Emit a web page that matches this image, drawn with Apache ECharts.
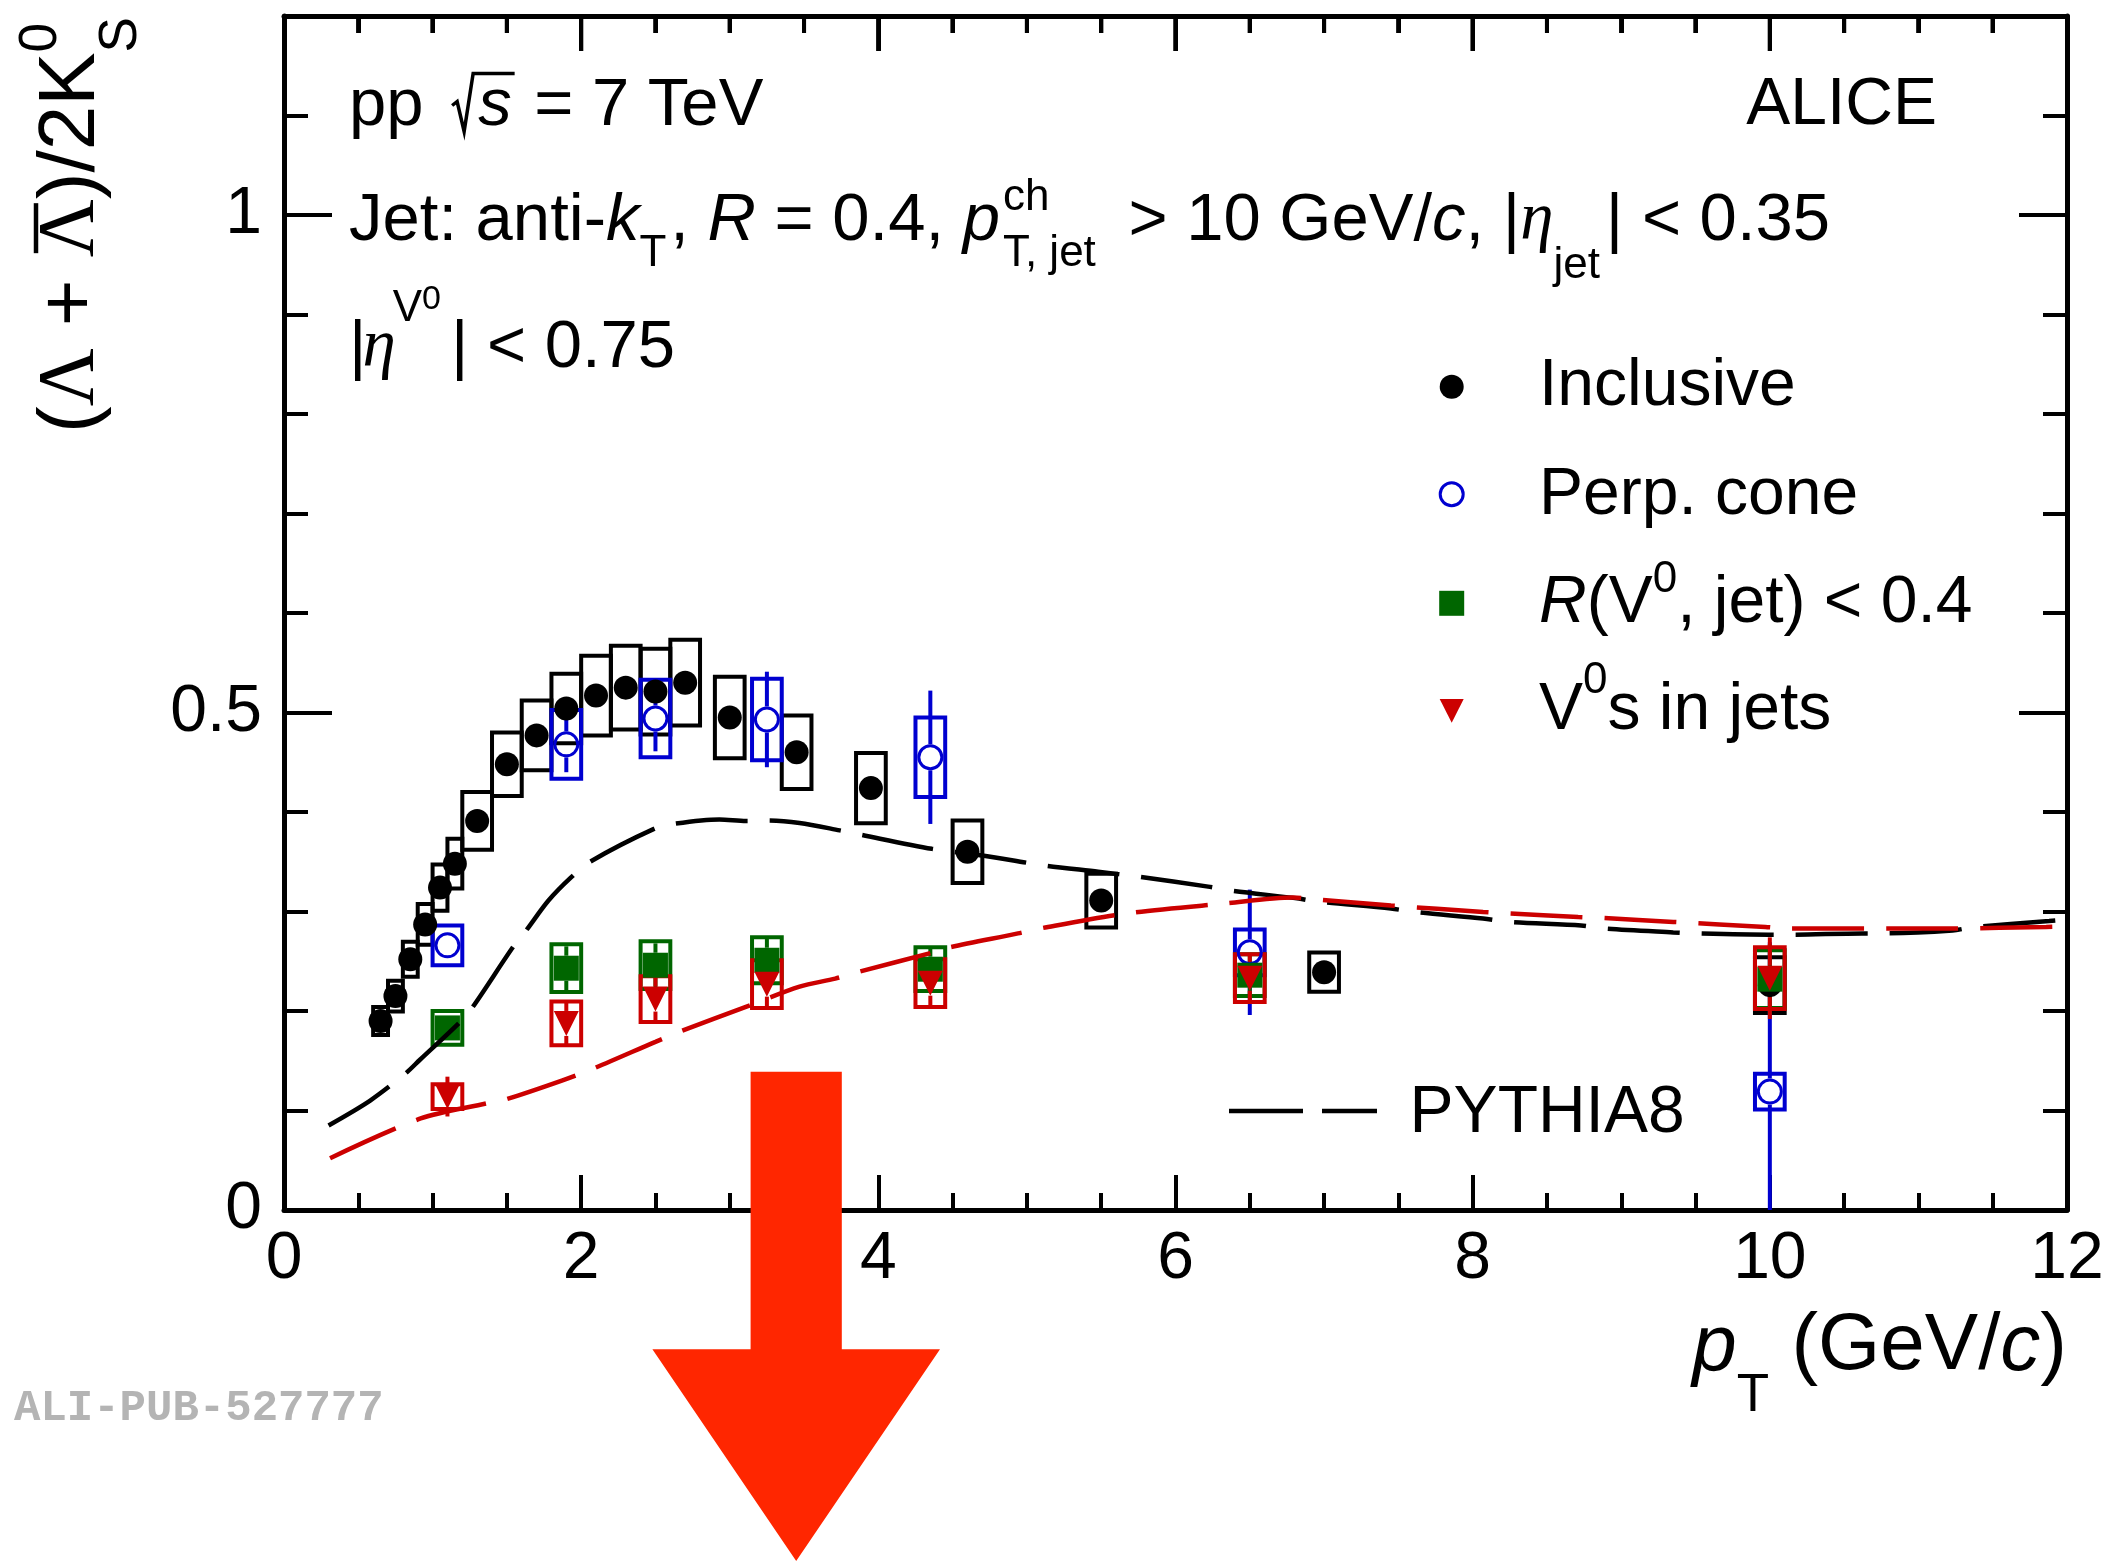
<!DOCTYPE html>
<html>
<head>
<meta charset="utf-8">
<script src="https://cdn.jsdelivr.net/npm/echarts@6/dist/echarts.min.js"></script>
<style>
  html, body { margin: 0; padding: 0; background: #ffffff; }
  #chart { width: 2111px; height: 1561px; }
</style>
</head>
<body>
<div id="chart"></div>
<script>
// ---------------- measured ratios ----------------
// Inclusive (Lambda + anti-Lambda)/2K0S, pT bin edges in GeV/c
const inclBinEdges = [0.6, 0.7, 0.8, 0.9, 1.0, 1.1, 1.2, 1.4, 1.6, 1.8, 2.0, 2.2, 2.4, 2.6, 2.8, 3.2, 3.7, 4.2, 5.0, 6.0, 8.0, 12.0];
const inclRatio = [0.190, 0.215, 0.252, 0.287, 0.324, 0.348, 0.391, 0.448, 0.477, 0.504, 0.517, 0.525, 0.521, 0.530, 0.495, 0.460, 0.424, 0.360, 0.311, 0.239, 0.226];
const inclSys   = [0.014, 0.0155, 0.0175, 0.0205, 0.0233, 0.025, 0.029, 0.032, 0.035, 0.035, 0.040, 0.042, 0.043, 0.043, 0.041, 0.037, 0.0354, 0.0314, 0.027, 0.0197, 0.028];

// Jet-related selections share one binning
const jetBinEdges = [0.6, 1.6, 2.2, 2.8, 3.7, 5.0, 8.0, 12.0];

// Perpendicular cone
const perpRatio = [0.266, 0.468, 0.494, 0.493, 0.455, 0.259, 0.119];
const perpStat  = [0.008, 0.028, 0.033, 0.048, 0.067, 0.063, 0.150];
const perpSys   = [0.020, 0.0345, 0.039, 0.041, 0.040, 0.023, 0.018];

// R(V0, jet) < 0.4
const coneRatio = [0.183, 0.243, 0.246, 0.251, 0.242, 0.236, 0.232];
const coneStat  = [0.010, 0.022, 0.022, 0.022, 0.022, 0.022, 0.035];
const coneSys   = [0.017, 0.024, 0.024, 0.023, 0.022, 0.021, 0.029];

// V0s in jets
const inJetRatio = [0.114, 0.1875, 0.212, 0.227, 0.228, 0.233, 0.233];
const inJetStat  = [0.020, 0.022, 0.023, 0.024, 0.024, 0.024, 0.041];
const inJetSys   = [0.0125, 0.022, 0.023, 0.024, 0.024, 0.024, 0.031];

// PYTHIA8 curves
const pythiaInclPt    = [0.30, 0.58, 0.82, 0.915, 1.185, 1.27, 1.54, 1.63, 1.78, 1.93, 2.06, 2.49, 2.62, 2.93, 3.11, 3.26, 3.47, 3.74, 3.87, 4.36, 4.71, 5.13, 5.48, 5.75, 6.22, 6.37, 6.83, 6.95, 7.45, 7.61, 8.07, 8.25, 8.73, 8.88, 9.35, 9.50, 9.99, 10.13, 10.62, 10.75, 11.23, 11.36, 11.88, 12.0];
const pythiaInclRatio = [0.085, 0.110, 0.1375, 0.151, 0.189, 0.204, 0.264, 0.281, 0.311, 0.334, 0.350, 0.383, 0.388, 0.3925, 0.391, 0.3915, 0.389, 0.3815, 0.3775, 0.363, 0.356, 0.346, 0.340, 0.335, 0.325, 0.321, 0.313, 0.310, 0.303, 0.2995, 0.293, 0.2895, 0.286, 0.283, 0.279, 0.278, 0.2767, 0.2767, 0.278, 0.278, 0.281, 0.284, 0.2905, 0.292];
const pythiaJetPt     = [0.31, 0.92, 1.36, 1.49, 1.87, 2.08, 2.50, 2.66, 3.14, 3.47, 3.71, 3.86, 4.37, 4.48, 4.94, 5.09, 5.67, 6.33, 6.79, 6.95, 7.45, 8.07, 8.24, 8.71, 8.88, 9.35, 9.97, 10.10, 10.60, 11.23, 11.86, 12.0];
const pythiaJetRatio  = [0.052, 0.092, 0.107, 0.111, 0.130, 0.142, 0.169, 0.179, 0.206, 0.2245, 0.2326, 0.239, 0.259, 0.264, 0.278, 0.283, 0.298, 0.308, 0.314, 0.312, 0.306, 0.2995, 0.298, 0.2945, 0.2935, 0.2895, 0.2845, 0.283, 0.283, 0.283, 0.2845, 0.285];

// pT positions of the ticks on the upper frame edge
const topTickPt = [0, 0.5, 1, 1.5, 2, 2.5, 3, 3.5, 4, 4.5, 5, 5.5, 6, 6.5, 7, 7.5, 8, 8.5, 9, 9.5, 10, 10.5, 11, 11.5, 12];

// ---------------- styling ----------------
const SANS  = '"Liberation Sans", Arial, Helvetica, sans-serif';
const SERIF = '"Liberation Serif", "DejaVu Serif", "Times New Roman", serif';
const MONO  = '"Liberation Mono", "DejaVu Sans Mono", "Courier New", monospace';
const BLACK = '#000000', BLUE = '#0000d0', GREEN = '#006600', RED = '#cc0000';
const SYS_BOX_HALF = 0.1;   // maximum half-width of the systematic boxes (GeV/c)
const Y_MAX = 1.2;

const centers = e => e.slice(0, -1).map((v, i) => (v + e[i + 1]) / 2);
const boxHalf = e => e.slice(0, -1).map((v, i) => Math.min((e[i + 1] - v) / 2, SYS_BOX_HALF));
const inclPt = centers(inclBinEdges), inclHalf = boxHalf(inclBinEdges);
const jetPt = centers(jetBinEdges), jetHalf = boxHalf(jetBinEdges);
const isMajorTick = x => Math.abs(x / 2 - Math.round(x / 2)) < 1e-6;

// ---------------- series builders ----------------
function sysBoxes(pt, half, val, sys, color) {
  return {
    type: 'custom', silent: true, clip: true,
    data: pt.map((x, i) => [x, val[i], sys[i], half[i]]),
    encode: { x: 0, y: 1 },
    renderItem: (params, api) => {
      const x = api.value(0), y = api.value(1), s = api.value(2), h = api.value(3);
      const a = api.coord([x - h, y + s]), b = api.coord([x + h, y - s]);
      return { type: 'rect', shape: { x: a[0], y: a[1], width: b[0] - a[0], height: b[1] - a[1] },
               style: { fill: 'none', stroke: color, lineWidth: 4 } };
    }
  };
}
function statBars(pt, val, stat, color, gap) {
  return {
    type: 'custom', silent: true, clip: true,
    data: pt.map((x, i) => [x, val[i], stat[i]]),
    encode: { x: 0, y: 1 },
    renderItem: (params, api) => {
      const x = api.value(0), y = api.value(1), e = api.value(2);
      const c = api.coord([x, y]), t = api.coord([x, y + e]), b = api.coord([x, Math.max(0, y - e)]);
      const kids = [];
      if (c[1] - gap > t[1]) kids.push({ type: 'line', shape: { x1: c[0], y1: c[1] - gap, x2: c[0], y2: t[1] }, style: { stroke: color, lineWidth: 4 } });
      if (b[1] > c[1] + gap) kids.push({ type: 'line', shape: { x1: c[0], y1: c[1] + gap, x2: c[0], y2: b[1] }, style: { stroke: color, lineWidth: 4 } });
      return { type: 'group', children: kids };
    }
  };
}
function markers(pt, val, symbol, size, itemStyle, rotate) {
  return {
    type: 'scatter', silent: true, clip: true,
    data: pt.map((x, i) => [x, val[i]]),
    symbol: symbol, symbolSize: size, symbolRotate: rotate || 0,
    itemStyle: Object.assign({ opacity: 1 }, itemStyle)
  };
}
function pythia(pt, val, color) {
  return {
    type: 'line', silent: true, showSymbol: false, symbol: 'none', smooth: 0.3, clip: true,
    data: pt.map((x, i) => [x, val[i]]),
    lineStyle: { color: color, width: 4.5, type: [72, 22], opacity: 1 }
  };
}
// inward ticks hanging from the upper frame edge (major every 2 GeV/c);
// each item is anchored mid-height so it always lies inside the plot
function topFrameTicks() {
  return {
    type: 'custom', silent: true, clip: false, z: 20,
    data: topTickPt.map(x => [x, Y_MAX / 2]),
    encode: { x: 0, y: 1 },
    renderItem: (params, api) => {
      const x = api.value(0);
      const c = api.coord([x, Y_MAX]);
      const len = isMajorTick(x) ? 35 : 17;
      return { type: 'line', shape: { x1: c[0], y1: c[1], x2: c[0], y2: c[1] + len }, style: { stroke: BLACK, lineWidth: 4 } };
    }
  };
}

// ---------------- text typesetting (sub/superscripts) ----------------
const mctx = document.createElement('canvas').getContext('2d');
const MID = 0.3465;  // em-middle above the alphabetic baseline
const fontOf = (size, it, fam, bold) => (it ? 'italic ' : '') + (bold ? 'bold ' : '') + size + 'px ' + (fam || SANS);
function widthOf(t, f) { mctx.font = f; return mctx.measureText(t).width; }
function glyph(x, dy, t, size, it, fam, color) {
  return { type: 'text', x: x, y: dy - MID * size, silent: true,
           style: { text: t, font: fontOf(size, it, fam), fill: color, align: 'left', verticalAlign: 'middle' } };
}
function typeset(segs, color) {
  const els = [];
  let x = 0;
  for (const s of segs) {
    if (s.gap) { x += s.gap; continue; }
    if (s.stack) {
      let w = 0;
      for (const p of s.stack) {
        els.push(glyph(x, p.dy || 0, p.t, p.size, p.it, p.fam, color));
        w = Math.max(w, widthOf(p.t, fontOf(p.size, p.it, p.fam)));
      }
      x += w; continue;
    }
    if (s.radical) {
      const sw = widthOf('s', fontOf(s.size, true));
      els.push({ type: 'polyline', silent: true,
                 shape: { points: [[x + 10, -24], [x + 15, -28], [x + 22, 2], [x + 31, -56], [x + 36 + sw + 3, -56]] },
                 style: { stroke: color, lineWidth: 3.5, fill: 'none' } });
      els.push(glyph(x + 36, 0, 's', s.size, true, null, color));
      x += 36 + sw + 4; continue;
    }
    const w = widthOf(s.t, fontOf(s.size, s.it, s.fam));
    els.push(glyph(x, s.dy || 0, s.t, s.size, s.it, s.fam, color));
    if (s.bar) {
      els.push({ type: 'line', silent: true,
                 shape: { x1: x + s.bar[0], y1: -s.bar[2], x2: x + w - s.bar[1], y2: -s.bar[2] },
                 style: { stroke: color, lineWidth: s.bar[3] } });
    }
    x += w;
  }
  return { els, width: x };
}
function textBlock(segs, x, y, opts) {
  opts = opts || {};
  const r = typeset(segs, opts.color || BLACK);
  return { type: 'group', x: opts.right ? x - r.width : x, y: y, rotation: opts.rotation || 0,
           silent: true, z: 50, children: r.els };
}

const M = 67, S = 44, L = 66;

const graphics = [
  // header
  textBlock([{ t: 'pp ', size: M }, { radical: true, size: M }, { t: ' = 7 TeV', size: M }], 349, 129.5),
  textBlock([{ t: 'ALICE', size: L }], 1937, 128.5, { right: true }),
  textBlock([
    { t: 'Jet: anti-', size: M }, { t: 'k', size: M, it: true }, { t: 'T', size: S, dy: 24 }, { gap: 4 },
    { t: ', ', size: M }, { t: 'R', size: M, it: true }, { t: ' = 0.4, ', size: M },
    { t: 'p', size: M, it: true }, { gap: 3 },
    { stack: [{ t: 'ch', size: S, dy: -32 }, { t: 'T, jet', size: S, dy: 24 }] }, { gap: 14 },
    { t: ' > 10 GeV/', size: M }, { t: 'c', size: M, it: true }, { t: ', |', size: M },
    { t: 'η', size: M, it: true, fam: SERIF }, { t: 'jet', size: S, dy: 36 }, { gap: 6 },
    { t: '| < 0.35', size: M }
  ], 349, 245),
  textBlock([
    { t: '|', size: M }, { gap: -4 }, { t: 'η', size: M, it: true, fam: SERIF },
    { gap: -3 }, { t: 'V', size: S, dy: -48 }, { t: '0', size: 34, dy: -60 }, { gap: 10 },
    { t: '| < 0.75', size: M }
  ], 349, 371.7),

  // legend
  { type: 'circle', silent: true, z: 50, shape: { cx: 1451.7, cy: 386.7, r: 12 }, style: { fill: BLACK } },
  textBlock([{ t: 'Inclusive', size: L }], 1539, 409.3),
  { type: 'circle', silent: true, z: 50, shape: { cx: 1451.7, cy: 494.3, r: 11.5 }, style: { fill: 'none', stroke: BLUE, lineWidth: 3 } },
  textBlock([{ t: 'Perp. cone', size: L }], 1539, 518.3),
  { type: 'rect', silent: true, z: 50, shape: { x: 1439.2, y: 590.8, width: 25, height: 25 }, style: { fill: GREEN } },
  textBlock([{ t: 'R', size: L, it: true }, { t: '(V', size: L }, { t: '0', size: S, dy: -32 }, { t: ', jet) < 0.4', size: L }], 1539, 626.7),
  { type: 'polygon', silent: true, z: 50, shape: { points: [[1439.7, 699], [1463.7, 699], [1451.7, 722.7]] }, style: { fill: RED } },
  textBlock([{ t: 'V', size: L }, { t: '0', size: S, dy: -37 }, { t: 's in jets', size: L }], 1539, 733.3),
  { type: 'line', silent: true, z: 50, shape: { x1: 1229, y1: 1111, x2: 1377, y2: 1111 }, style: { stroke: BLACK, lineWidth: 4.5, lineDash: [74, 19] } },
  textBlock([{ t: 'PYTHIA8', size: L }], 1409.6, 1136.7),

  // axis titles
  textBlock([{ t: 'p', size: 80, it: true }, { t: 'T', size: 53, dy: 40 }, { t: ' (GeV/', size: 80 }, { t: 'c', size: 80, it: true }, { t: ')', size: 80 }],
            2067, 1375, { right: true }),
  textBlock([
    { t: '(', size: 80 }, { t: 'Λ', size: 80, fam: SERIF }, { t: ' + ', size: 80 },
    { t: 'Λ', size: 80, fam: SERIF, bar: [4, 4, 64, 4.5] }, { t: ')/2K', size: 80 },
    { stack: [{ t: '0', size: 53, dy: -40 }, { t: 'S', size: 53, dy: 40 }] }
  ], 100, 433, { rotation: Math.PI / 2 }),

  // publication id
  { type: 'text', silent: true, z: 50, x: 14, y: 1409,
    style: { text: 'ALI-PUB-527777', font: fontOf(44, false, MONO, true), fill: '#b4b4b4', align: 'left', verticalAlign: 'middle' } },

  // highlight arrow
  { type: 'polygon', silent: true, z: 100,
    shape: { points: [[750.6, 1071.7], [841.8, 1071.7], [841.8, 1349.3], [940, 1349.3], [796.2, 1561], [652.4, 1349.3], [750.6, 1349.3]] },
    style: { fill: '#ff2600' } }
];

// ---------------- axes ----------------
const tickStyle = { color: BLACK, width: 4 };
function frameLine() { return { show: true, onZero: false, lineStyle: { color: BLACK, width: 5 } }; }
function xAx(pos, labels) {
  return {
    type: 'value', position: pos, min: 0, max: 12, interval: 2, offset: 0,
    axisLine: frameLine(),
    axisTick: { show: true, inside: true, length: 35, lineStyle: { color: BLACK, width: 4 } },
    minorTick: { show: true, splitNumber: 4, length: 17, lineStyle: { color: BLACK, width: 4 } },
    splitLine: { show: false }, minorSplitLine: { show: false },
    axisLabel: labels ? { show: true, fontSize: 66, fontFamily: SANS, color: BLACK, margin: 17 } : { show: false }
  };
}
function yAx(pos, interval, len, labels, line) {
  return {
    type: 'value', position: pos, min: 0, max: Y_MAX, interval: interval, offset: 0,
    axisLine: line ? frameLine() : { show: false, onZero: false },
    axisTick: { show: true, inside: true, length: len, lineStyle: tickStyle },
    splitLine: { show: false },
    axisLabel: labels ? { show: true, fontSize: 66, fontFamily: SANS, color: BLACK, margin: 22, showMaxLabel: false } : { show: false }
  };
}

const option = {
  animation: false,
  backgroundColor: '#ffffff',
  grid: { left: 284, right: 44, top: 16, bottom: 351, containLabel: false, outerBoundsMode: 'none' },
  xAxis: [xAx('bottom', true), xAx('top', false)],
  yAxis: [
    yAx('left', 0.5, 48, true, true), yAx('left', 0.1, 24, false, false),
    yAx('right', 0.5, 48, false, true), yAx('right', 0.1, 24, false, false)
  ],
  series: [
    sysBoxes(inclPt, inclHalf, inclRatio, inclSys, BLACK),
    markers(inclPt, inclRatio, 'circle', 24, { color: BLACK }),

    sysBoxes(jetPt, jetHalf, perpRatio, perpSys, BLUE),
    statBars(jetPt, perpRatio, perpStat, BLUE, 13),
    markers(jetPt, perpRatio, 'circle', 23, { color: 'rgba(0,0,0,0)', borderColor: BLUE, borderWidth: 3 }),

    sysBoxes(jetPt, jetHalf, coneRatio, coneSys, GREEN),
    statBars(jetPt, coneRatio, coneStat, GREEN, 12.5),
    markers(jetPt, coneRatio, 'rect', 25, { color: GREEN }),

    sysBoxes(jetPt, jetHalf, inJetRatio, inJetSys, RED),
    statBars(jetPt, inJetRatio, inJetStat, RED, 12.5),
    markers(jetPt, inJetRatio, 'triangle', 25, { color: RED }, 180),

    pythia(pythiaInclPt, pythiaInclRatio, BLACK),
    pythia(pythiaJetPt, pythiaJetRatio, RED),

    topFrameTicks()
  ],
  graphic: { elements: graphics }
};

const chart = echarts.init(document.getElementById('chart'), null, { renderer: 'canvas', width: 2111, height: 1561 });
chart.setOption(option);

// the same upper-edge ticks again as overlay shapes, positioned through the grid's pT scale
try {
  const overlay = [];
  for (const x of topTickPt) {
    const p = chart.convertToPixel({ gridIndex: 0 }, [x, Y_MAX]);
    if (!p || !isFinite(p[0]) || !isFinite(p[1])) continue;
    overlay.push({ type: 'rect', silent: true, z: 200,
                   shape: { x: p[0] - 2, y: p[1], width: 4, height: isMajorTick(x) ? 35 : 17 },
                   style: { fill: BLACK } });
  }
  if (overlay.length) chart.setOption({ graphic: { elements: graphics.concat(overlay) } });
} catch (err) { /* the series-drawn ticks remain */ }
</script>
</body>
</html>
